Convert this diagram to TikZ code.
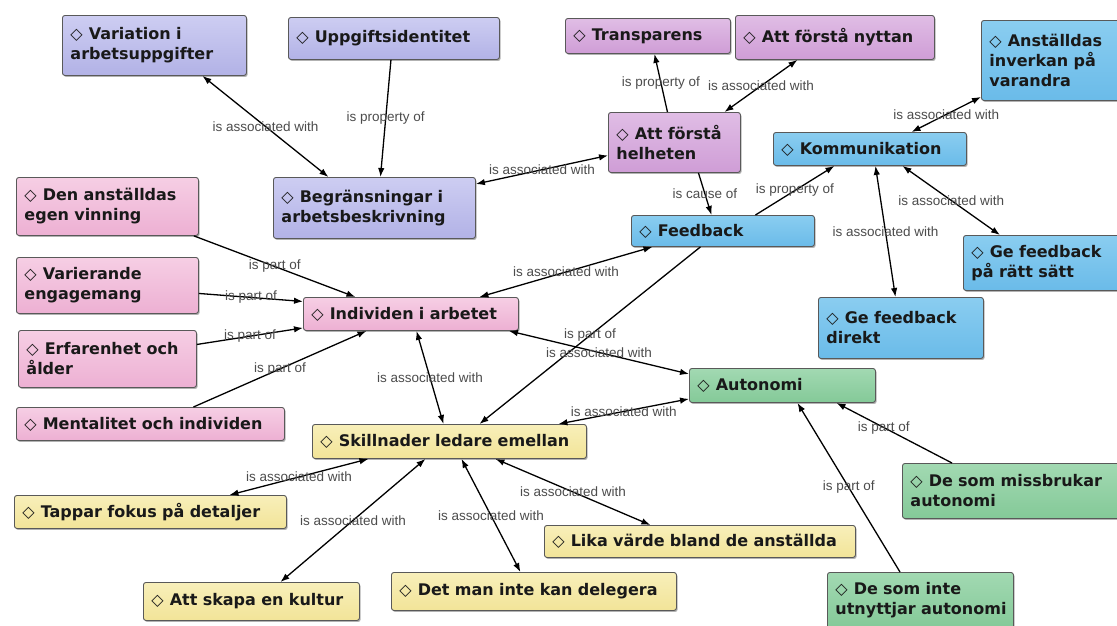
\documentclass[tikz,border=0pt]{standalone}
\usepackage{fontspec}
\setmainfont{DejaVu Sans}
\newfontfamily\labfam{Liberation Sans}
\usetikzlibrary{calc,arrows.meta,shadows}
\hyphenpenalty=10000 \exhyphenpenalty=10000
\definecolor{lav}{HTML}{B2B2E6}\definecolor{lavtop}{HTML}{CDCDF2}
\definecolor{purp}{HTML}{CF9DD6}\definecolor{purptop}{HTML}{E0BDE5}
\definecolor{sky}{HTML}{6ABBE9}\definecolor{skytop}{HTML}{8ACDF0}
\definecolor{pink}{HTML}{EDB0D3}\definecolor{pinktop}{HTML}{F6CEE4}
\definecolor{grn}{HTML}{84C998}\definecolor{grntop}{HTML}{A2D9B2}
\definecolor{yel}{HTML}{F2E498}\definecolor{yeltop}{HTML}{F8EFBA}
\newcommand\dia{{\mdseries ◇}\hspace{6pt}}
\newcommand\mkbox[7]{%
  \pgfmathsetmacro\bw{#4-#2}\pgfmathsetmacro\bh{#5-#3}\pgfmathsetmacro\tw{#4-#2-16}%
  \node[box=#6, minimum width=\bw pt, minimum height=\bh pt, text width=\tw pt] (#1) at (#2,#3) {\dia #7};}
\begin{document}
\begin{tikzpicture}[x=1pt,y=-1pt,
  box/.style={draw=black!65, rounded corners=2.5pt, line width=0.9pt, anchor=north west,
    inner xsep=8pt, inner ysep=0pt, align=left, text=black!90,
    font=\bfseries\fontsize{16}{20}\selectfont,
    top color=#1top, bottom color=#1,
    drop shadow={shadow xshift=1.2pt, shadow yshift=-1.5pt, opacity=0.3, fill=black}},
  conn/.style={draw=black, line width=1.3pt, >={Latex[length=9pt,width=6.5pt]}},
  lab/.style={font=\labfam\fontsize{13.5}{15}\selectfont, text=black!70, inner sep=1pt, pos=0.5}]
\fill[white] (0,0) rectangle (1117,625);
\useasboundingbox (0,0) rectangle (1117,625);
% nodes
\mkbox{var}{62}{15}{246}{75}{lav}{Variation i\\arbetsuppgifter}
\mkbox{upp}{288}{17}{499}{59}{lav}{Uppgiftsidentitet}
\mkbox{beg}{273}{177}{475}{238}{lav}{Begränsningar~i\\arbetsbeskrivning}
\mkbox{tra}{565}{18}{730}{53}{purp}{Transparens}
\mkbox{nyt}{735}{15}{934}{59}{purp}{Att förstå nyttan}
\mkbox{hel}{608}{112}{740}{172}{purp}{Att~förstå\\helheten}
\mkbox{anst}{981}{20}{1125}{100}{sky}{Anställdas\\inverkan~på\\varandra}
\mkbox{kom}{773}{132}{966}{165}{sky}{Kommunikation}
\mkbox{feed}{631}{215}{814}{246}{sky}{Feedback}
\mkbox{gerat}{963}{235}{1125}{290}{sky}{Ge~feedback\\på~rätt~sätt}
\mkbox{gedir}{818}{297}{983}{358}{sky}{Ge~feedback\\direkt}
\mkbox{den}{16}{177}{198}{235}{pink}{Den~anställdas\\egen~vinning}
\mkbox{vare}{16}{257}{198}{313}{pink}{Varierande\\engagemang}
\mkbox{erf}{18}{330}{196}{387}{pink}{Erfarenhet~och\\ålder}
\mkbox{ment}{16}{407}{284}{440}{pink}{Mentalitet~och~individen}
\mkbox{ind}{303}{297}{518}{330}{pink}{Individen~i~arbetet}
\mkbox{aut}{689}{368}{875}{402}{grn}{Autonomi}
\mkbox{miss}{902}{463}{1125}{518}{grn}{De~som~missbrukar\\autonomi}
\mkbox{inte}{827}{572}{1013}{628}{grn}{De~som~inte\\\mbox{utnyttjar autonomi}}
\mkbox{skill}{312}{424}{586}{458}{yel}{Skillnader~ledare~emellan}
\mkbox{tap}{14}{495}{286}{528}{yel}{Tappar~fokus~på~detaljer}
\mkbox{lika}{544}{525}{855}{557}{yel}{Lika~värde~bland~de~anställda}
\mkbox{detm}{391}{572}{676}{610}{yel}{Det~man~inte~kan~delegera}
\mkbox{skapa}{143}{582}{359}{620}{yel}{Att~skapa~en~kultur}
% connectors
\draw[conn,<->] ($(var.south)+(48,0)$) -- node[lab] (l1) {is associated with} ($(beg.north)+(-46,0)$);
\draw[conn,->] ($(upp.south)+(-3,0)$) -- node[lab] (l2) {is property of} ($(beg.north)+(6,0)$);
\draw[conn,<->] ($(beg.north east)+(0,7)$) -- node[lab] (l3) {is associated with} ($(hel.west)+(0,13)$);
\draw[conn,->] ($(hel.north)+(-7,0)$) -- node[lab] (l4) {is property of} ($(tra.south)+(6.5,0)$);
\draw[conn,<->] ($(hel.north)+(50,0)$) -- node[lab] (l5) {is associated with} ($(nyt.south)+(-37.5,0)$);
\draw[conn,->] ($(hel.south)+(24,0)$) -- node[lab] (l6) {is cause of} ($(feed.north)+(-11.5,0)$);
\draw[conn,->] ($(feed.north)+(32.5,0)$) -- node[lab] (l7) {is property of} ($(kom.south)+(-35.5,0)$);
\draw[conn,<->] ($(kom.north)+(41.5,0)$) -- node[lab] (l8) {is associated with} ($(anst.south west)+(0,-4)$);
\draw[conn,<->] ($(kom.south)+(5.5,0)$) -- node[lab] (l9) {is associated with} ($(gedir.north)+(-5.5,0)$);
\draw[conn,<->] ($(kom.south)+(32.5,0)$) -- node[lab] (l10) {is associated with} ($(gerat.north west)+(37,0)$);
\draw[conn,->] ($(den.south east)+(-5,0)$) -- node[lab] (l11) {is part of} ($(ind.north)+(-55.5,0)$);
\draw[conn,->] ($(vare.east)+(0,8)$) -- node[lab] (l12) {is part of} ($(ind.west)+(0,-12.5)$);
\draw[conn,->] ($(erf.east)+(0,-14.5)$) -- node[lab] (l13) {is part of} ($(ind.south west)+(0,-3)$);
\draw[conn,->] ($(ment.north)+(43,0)$) -- node[lab] (l14) {is part of} ($(ind.south)+(-44.5,0)$);
\draw[conn,<->] ($(feed.south)+(-70.5,0)$) -- node[lab] (l15) {is associated with} ($(ind.north)+(68.5,0)$);
\draw[conn,->] ($(feed.south)+(-22.5,0)$) -- node[lab] (l16) {is part of} ($(skill.north)+(30,0)$);
\draw[conn,<->] ($(ind.south east)+(-10,0)$) -- node[lab] (l17) {is associated with} ($(aut.north west)+(0,6)$);
\draw[conn,<->] ($(ind.south)+(5.5,0)$) -- node[lab] (l18) {is associated with} ($(skill.north)+(-6,0)$);
\draw[conn,<->] ($(aut.south west)+(0,-4)$) -- node[lab] (l19) {is associated with} ($(skill.north)+(109,0)$);
\draw[conn,->] ($(miss.north west)+(50,0)$) -- node[lab,pos=0.59] (l20) {is part of} ($(aut.south)+(54,0)$);
\draw[conn,->] ($(inte.north west)+(73,0)$) -- node[lab] (l21) {is part of} ($(aut.south)+(15,0)$);
\draw[conn,<->] ($(skill.south)+(-81,0)$) -- node[lab] (l22) {is associated with} ($(tap.north)+(79,0)$);
\draw[conn,<->] ($(skill.south)+(-24,0)$) -- node[lab] (l23) {is associated with} ($(skapa.north)+(29,0)$);
\draw[conn,<->] ($(skill.south)+(12,0)$) -- node[lab] (l24) {is associated with} ($(detm.north)+(-13.5,0)$);
\draw[conn,<->] ($(skill.south)+(46,0)$) -- node[lab] (l25) {is associated with} ($(lika.north)+(-49.5,0)$);
\end{tikzpicture}
\end{document}
